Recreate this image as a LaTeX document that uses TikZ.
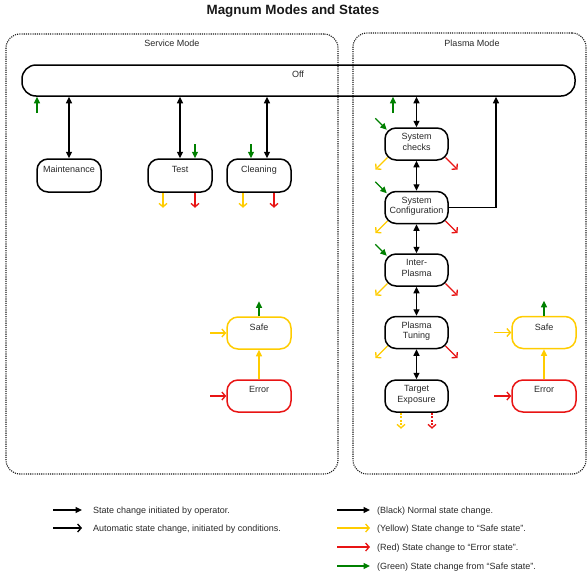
\documentclass[tikz,border=0pt]{standalone}
\usepackage{fontspec}
\setmainfont{Liberation Sans}
\usetikzlibrary{arrows.meta}
\definecolor{cyel}{RGB}{255,204,0}
\definecolor{cred}{RGB}{232,20,20}
\definecolor{cgrn}{RGB}{0,128,0}
\definecolor{ctxt}{RGB}{40,40,40}
\newcommand\lstr{\rule[-2pt]{0pt}{8.5pt}}
\begin{document}
\begin{tikzpicture}[x=1pt,y=-1pt,
  lbl/.style={inner sep=0pt, text=ctxt, font=\fontsize{9}{10.5}\selectfont},
  lbl2/.style={lbl, align=center},
  mode/.style={draw=black!90, line width=1.1pt, dash pattern=on 1.1pt off 1.1pt, rounded corners=14pt, inner sep=0pt},
  st/.style={draw=black, line width=1.5pt, rounded corners=11pt, minimum width=64pt, minimum height=32pt, inner sep=0pt},
  sty/.style={st, draw=cyel},
  str/.style={st, draw=cred},
  fh/.style={-{Triangle[length=6.5pt,width=6pt]}},
  oh/.style={-{Straight Barb[length=3.5pt,width=8pt]}},
  arr/.style={line width=1.35pt},
  dbl/.style={arr, black, {Triangle[length=6.5pt,width=6pt]}-{Triangle[length=6.5pt,width=6pt]}},
  op/.style={arr, black, fh},
  aut/.style={arr, black, oh},
  ayel/.style={arr, cyel, oh},
  ared/.style={arr, cred, oh},
  yelF/.style={arr, cyel, fh},
  agrn/.style={arr, cgrn, fh},
  dsh/.style={dash pattern=on 2pt off 1.5pt}
]
\useasboundingbox (0,0) rectangle (588,576);

% title
\node[lbl, font=\bfseries\fontsize{13.4}{15}\selectfont, anchor=base, text=black!90] (title) at (293,14.3) {Magnum Modes and States};

% mode containers
\node[mode, minimum width=332pt, minimum height=440pt] (svc) at (172,254) {};
\node[mode, minimum width=233pt, minimum height=441pt] (pls) at (469.5,253.5) {};
\node[lbl, anchor=base] (svcT) at (172,46) {Service Mode};
\node[lbl, anchor=base] (plsT) at (472,46) {Plasma Mode};

% Off
\node[st, minimum width=553pt, minimum height=31pt, rounded corners=14pt] (off) at (298.5,80.5) {};
\node[lbl, anchor=base] (offT) at (298,77.8) {Off};

% service mode states
\node[st, minimum height=33pt] (maint) at (69,175.5) {};
\node[st, minimum height=33pt] (test) at (180,175.5) {};
\node[st, minimum height=33pt] (clean) at (259,175.5) {};
\node[lbl, anchor=base] (maintT) at (69,172.5) {Maintenance};
\node[lbl, anchor=base] (testT) at (180,172.5) {Test};
\node[lbl, anchor=base] (cleanT) at (259,172.5) {Cleaning};

\node[sty] (safeA) at (259,333) {};
\node[str] (errA) at (259,396) {};
\node[lbl, anchor=base] (safeAT) at (259,330) {Safe};
\node[lbl, anchor=base] (errAT) at (259,392.7) {Error};

% plasma mode states
\node[st, minimum width=63pt] (sc) at (416.5,144) {};
\node[st, minimum width=63pt] (cfg) at (416.5,207.5) {};
\node[st, minimum width=63pt] (ip) at (416.5,270) {};
\node[st, minimum width=63pt] (pt) at (416.5,332.5) {};
\node[st, minimum width=63pt] (te) at (416.5,396) {};
\node[lbl2] (scT) at (416.5,142.5) {System\lstr\\checks\lstr};
\node[lbl2] (cfgT) at (416.5,206) {System\lstr\\Configuration\lstr};
\node[lbl2] (ipT) at (416.5,268.5) {Inter-\lstr\\Plasma\lstr};
\node[lbl2] (ptT) at (416.5,331.3) {Plasma\lstr\\Tuning\lstr};
\node[lbl2] (teT) at (416.5,394.5) {Target\lstr\\Exposure\lstr};

\node[sty] (safeB) at (544,332.5) {};
\node[str] (errB) at (544,396) {};
\node[lbl, anchor=base] (safeBT) at (544,330) {Safe};
\node[lbl, anchor=base] (errBT) at (544,392.7) {Error};

% service connectors
\draw[dbl] (off.south -| maint.north) -- (maint.north);
\draw[dbl] (off.south -| test.north) -- (test.north);
\coordinate (cleanX) at (267,0);
\draw[dbl] (off.south -| cleanX) -- (clean.north -| cleanX);
\coordinate (gL) at (37,113);
\draw[agrn] (gL) -- (gL |- off.south);
\draw[agrn] ([shift={(15,-14)}]test.north) -- ([xshift=15pt]test.north);
\draw[agrn] ([shift={(-8,-14)}]clean.north) -- ([xshift=-8pt]clean.north);
\draw[ayel] ([xshift=-17pt]test.south) -- ++(0,15);
\draw[ared] ([xshift=15pt]test.south) -- ++(0,15);
\draw[ayel] ([xshift=-16pt]clean.south) -- ++(0,15);
\draw[ared] ([xshift=15pt]clean.south) -- ++(0,15);

\draw[yelF] (errA.north) -- (safeA.south);
\draw[agrn] (safeA.north) -- ++(0,-15);
\draw[ayel] ([xshift=-16pt]safeA.west) -- (safeA.west);
\draw[ared] ([xshift=-16pt]errA.west) -- (errA.west);

% plasma connectors
\draw[dbl] (off.south -| sc.north) -- (sc.north);
\draw[dbl] (sc.south) -- (cfg.north);
\draw[dbl] (cfg.south) -- (ip.north);
\draw[dbl] (ip.south) -- (pt.north);
\draw[dbl] (pt.south) -- (te.north);
\coordinate (gR) at (393,113);
\draw[agrn] (gR) -- (gR |- off.south);
\coordinate (bend) at (496,0);
\draw[op] (cfg.east) -| (off.south -| bend);

\foreach \n in {sc,cfg,ip}{
  \draw[agrn] ([shift={(-9,-9)}]\n.north west) -- ([shift={(2.5,2.5)}]\n.north west);
}
\foreach \n in {sc,cfg,ip,pt}{
  \draw[ayel] ([shift={(3.2,-3.2)}]\n.south west) -- ++(-12,12);
  \draw[ared] ([shift={(-3.2,-3.2)}]\n.south east) -- ++(12,12);
}
\draw[ayel, dsh] ([xshift=-15.5pt]te.south) -- ++(0,16);
\draw[ared, dsh] ([xshift=15.5pt]te.south) -- ++(0,16);

\draw[yelF] (errB.north) -- (safeB.south);
\draw[agrn] (safeB.north) -- ++(0,-15);
\draw[ayel] ([xshift=-17pt]safeB.west) -- (safeB.west);
\draw[ared] ([xshift=-17pt]errB.west) -- (errB.west);

% legend
\coordinate (l1a) at (53,510); \coordinate (l1b) at (82,510);
\coordinate (l2a) at (53,528); \coordinate (l2b) at (82,528);
\draw[op] (l1a) -- (l1b);
\draw[aut] (l2a) -- (l2b);
\node[lbl, anchor=base west] (l1t) at (93,513.2) {State change initiated by operator.};
\node[lbl, anchor=base west] (l2t) at (93,531.2) {Automatic state change, initiated by conditions.};

\coordinate (r1a) at (337,510); \coordinate (r1b) at (370,510);
\coordinate (r2a) at (337,528); \coordinate (r2b) at (370,528);
\coordinate (r3a) at (337,547); \coordinate (r3b) at (370,547);
\coordinate (r4a) at (337,566); \coordinate (r4b) at (370,566);
\draw[op] (r1a) -- (r1b);
\draw[ayel] (r2a) -- (r2b);
\draw[ared] (r3a) -- (r3b);
\draw[agrn] (r4a) -- (r4b);
\node[lbl, anchor=base west] (r1t) at (377,513.2) {(Black) Normal state change.};
\node[lbl, anchor=base west] (r2t) at (377,531.4) {(Yellow) State change to “Safe state”.};
\node[lbl, anchor=base west] (r3t) at (377,550.2) {(Red) State change to “Error state”.};
\node[lbl, anchor=base west] (r4t) at (377,569.4) {(Green) State change from “Safe state”.};
\end{tikzpicture}
\end{document}
